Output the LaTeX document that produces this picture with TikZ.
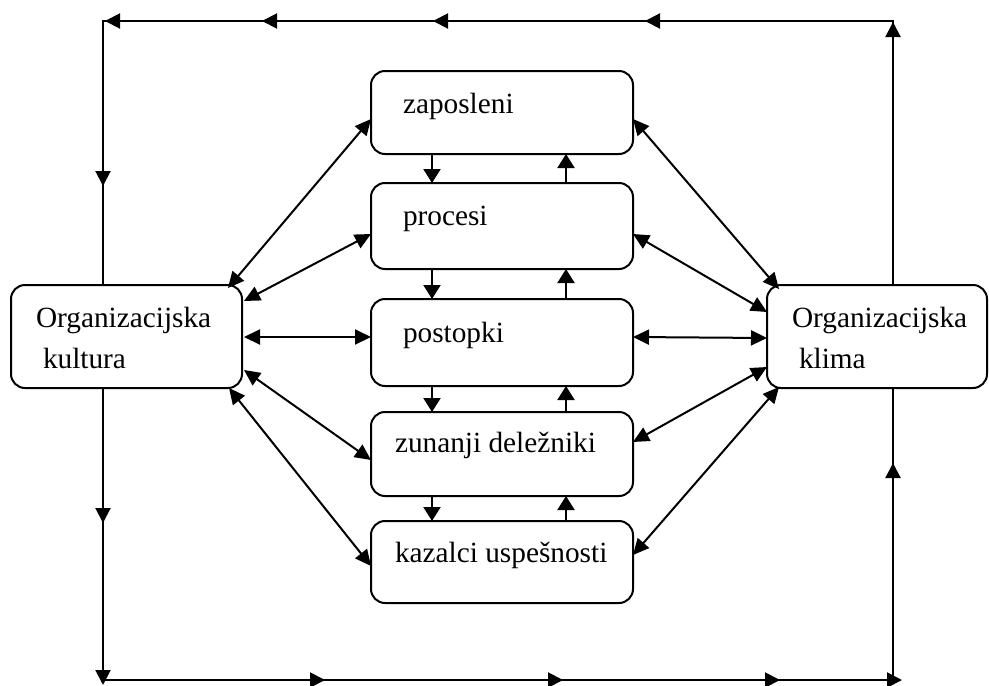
\documentclass[tikz,border=0pt]{standalone}
\usepackage{fontspec}
\setmainfont{Liberation Serif}
\usetikzlibrary{arrows.meta,calc}
\tikzset{
  box/.style={draw, line width=2pt, rounded corners=14pt, inner sep=0pt, outer sep=0pt},
  txt/.style={font=\fontsize{29.3}{34}\selectfont, anchor=base west, inner sep=0pt, outer sep=0pt},
  ln/.style={line width=2pt},
  tip/.style={line width=2pt, -{Triangle[length=15pt,width=15pt]}},
  vtip/.style={line width=2pt, -{Triangle[length=14pt,width=17pt]}},
  dbl/.style={line width=2pt, {Triangle[length=16pt,width=15pt]}-{Triangle[length=16pt,width=15pt]}},
}
\begin{document}
\begin{tikzpicture}[x=1pt,y=-1pt]
\useasboundingbox (0,0) rectangle (989,686);

% side boxes
\node[box, minimum width=231pt, minimum height=103pt] (L) at (126.5,336.5) {};
\node[box, minimum width=220pt, minimum height=103pt] (R) at (877,336.5) {};
\node[txt] (L1) at (36,327) {Organizacijska};
\node[txt] (L2) at (43,368) {kultura};
\node[txt] (R1) at (792,327) {Organizacijska};
\node[txt] (R2) at (799,368) {klima};

% centre boxes
\node[box, minimum width=262pt, minimum height=83pt] (Z) at (502,112.5) {};
\node[box, minimum width=262pt, minimum height=86pt] (P) at (502,226) {};
\node[box, minimum width=262pt, minimum height=87pt] (S) at (502,342.5) {};
\node[box, minimum width=262pt, minimum height=84pt] (U) at (502,454) {};
\node[box, minimum width=262pt, minimum height=82pt] (K) at (502,562) {};
\node[txt] (Zt) at (403,113) {zaposleni};
\node[txt] (Pt) at (403,225) {procesi};
\node[txt] (St) at (403,342) {postopki};
\node[txt] (Ut) at (395,452) {zunanji deležniki};
\node[txt] (Kt) at (395,562) {kazalci uspešnosti};

% vertical arrows between centre boxes
\foreach \a/\b in {Z/P,P/S,S/U,U/K}{
  \draw[vtip] ($(\a.south west)+(61,0)$) -- ($(\b.north west)+(61,0)$);
  \draw[vtip] ($(\b.north west)+(195,0)$) -- ($(\a.south west)+(195,0)$);
}

% double arrows left
\draw[dbl] ($(L.north east)+(-14,3)$) -- ($(Z.north west)+(0,48)$);
\draw[dbl] ($(L.north east)+(2,16)$) -- ($(P.north west)+(0,51)$);
\draw[dbl] ($(L.north east)+(2,52)$) -- ($(S.north west)+(0,38)$);
\draw[dbl] ($(L.south east)+(2,-18)$) -- ($(U.north west)+(0,48)$);
\draw[dbl] ($(L.south east)+(-13,0)$) -- ($(K.north west)+(0,45)$);
% double arrows right
\draw[dbl] ($(Z.north east)+(0,48)$) -- ($(R.north west)+(12,4)$);
\draw[dbl] ($(P.north east)+(0,51)$) -- ($(R.north west)+(0,27)$);
\draw[dbl] ($(S.north east)+(0,38)$) -- ($(R.north west)+(0,53)$);
\draw[dbl] ($(U.north east)+(0,30)$) -- ($(R.south west)+(0,-21)$);
\draw[dbl] ($(K.north east)+(0,34)$) -- ($(R.south west)+(12,-1)$);

% outer loop
\coordinate (tl) at (103,21);
\coordinate (tr) at (893,21);
\coordinate (bl) at (103,680);
\coordinate (br) at (893,680);
\draw[ln] (R.north -| tr) -- (tr) -- (tl) -- (L.north -| tl);
\draw[ln] (L.south -| bl) -- (bl) -- (br) -- (R.south -| br);

% arrowheads on top loop
\draw[tip] ($(tr)+(0,16)$) -- ($(tr)+(0,1)$);
\draw[tip] ($(tr)+(-233,0)$) -- ($(tr)+(-248,0)$);
\draw[tip] ($(tl)+(345,0)$) -- ($(tl)+(330,0)$);
\draw[tip] ($(tl)+(174,0)$) -- ($(tl)+(159,0)$);
\draw[tip] ($(tl)+(17,0)$) -- ($(tl)+(2,0)$);
\draw[tip] ($(tl)+(0,150)$) -- ($(tl)+(0,165)$);
% arrowheads on bottom loop
\draw[tip] ($(bl)+(0,-172)$) -- ($(bl)+(0,-157)$);
\draw[tip] ($(bl)+(0,-10)$) -- ($(bl)+(0,5)$);
\draw[tip] ($(bl)+(207,0)$) -- ($(bl)+(222,0)$);
\draw[tip] ($(bl)+(445,0)$) -- ($(bl)+(460,0)$);
\draw[tip] ($(br)+(-128,0)$) -- ($(br)+(-113,0)$);
\draw[tip] ($(br)+(-6,0)$) -- ($(br)+(9,0)$);
\draw[tip] ($(br)+(0,-202)$) -- ($(br)+(0,-217)$);
\end{tikzpicture}
\end{document}
